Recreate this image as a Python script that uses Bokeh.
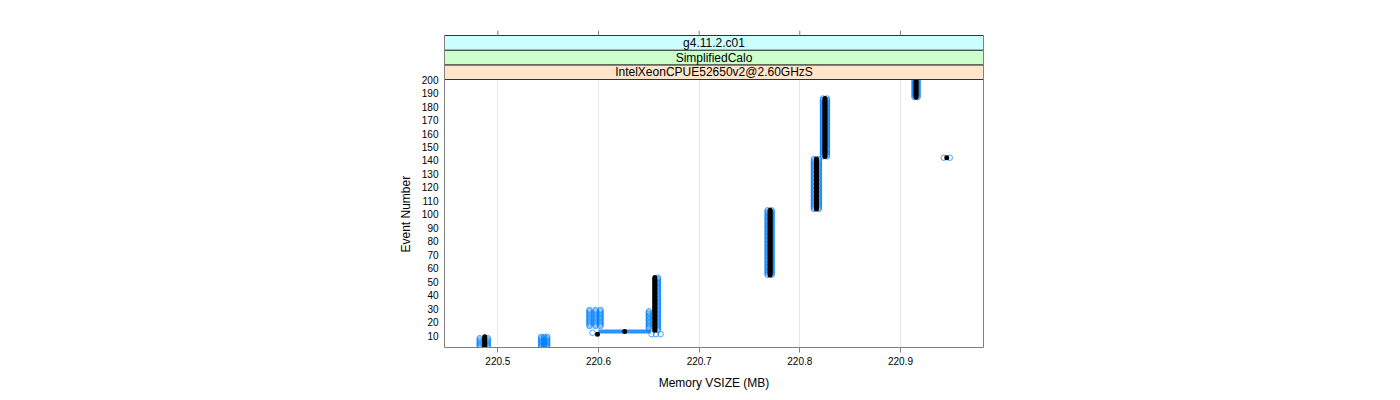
from bokeh.plotting import figure
from bokeh.models import Range1d, FixedTicker, LinearAxis, Title
from bokeh.core.properties import value
from bokeh.embed import file_html
from bokeh.resources import INLINE

# ---- data ----
strip_labels = ["IntelXeonCPUE52650v2@2.60GHzS", "SimplifiedCalo", "g4.11.2.c01"]
strip_colors = ["#ffe5cc", "#ccffcc", "#ccffff"]

x_ticks = [220.5, 220.6, 220.7, 220.8, 220.9]
y_ticks = [10, 20, 30, 40, 50, 60, 70, 80, 90, 100,
           110, 120, 130, 140, 150, 160, 170, 180, 190, 200]

# black run: memory (MB) held over event ranges
black_mem = [220.487, 220.599, 220.626, 220.656, 220.7705, 220.8165, 220.946, 220.825, 220.9155]
black_first = [1, 11, 13, 14, 55, 104, 142, 143, 187]
black_last = [9, 11, 13, 53, 103, 141, 142, 186, 200]

# blue runs: memory (MB) held over event ranges
blue_mem = [220.482, 220.490, 220.543, 220.546, 220.549,
            220.591, 220.597, 220.602, 220.594,
            220.650, 220.659, 220.6527, 220.657, 220.6617,
            220.768, 220.772, 220.814, 220.819,
            220.823, 220.827, 220.914, 220.917, 220.943, 220.949]
blue_first = [1, 1, 1, 1, 1,
              17, 17, 17, 12,
              15, 14, 11, 11, 11,
              55, 55, 104, 104,
              143, 143, 187, 187, 142, 142]
blue_last = [8, 8, 9, 9, 9,
             29, 29, 29, 12,
             28, 53, 11, 11, 11,
             103, 103, 141, 141,
             186, 186, 200, 200, 142, 142]

blue_step_mem = [220.600, 220.652]
blue_step_event = [13, 13]


def expand(mem, first, last):
    xs, ys = [], []
    for m, a, b in zip(mem, first, last):
        for e in range(a, b + 1):
            xs.append(m)
            ys.append(e)
    return xs, ys


bx, by = expand(black_mem, black_first, black_last)
ux, uy = expand(blue_mem, blue_first, blue_last)

FONT = "Liberation Sans"
GRAY = "#808080"

# layout (pixels)
FRAME_W, FRAME_H = 539, 317
PANEL_H = 268          # panel body height
STRIP_TOTAL = 44       # three strips
x0, x1 = 220.447, 220.9825
y0, panel_top = 1.1, 200.1
ppu = PANEL_H / (panel_top - y0)
strip_top = panel_top + STRIP_TOTAL / ppu
y1 = y0 + FRAME_H / ppu

p = figure(frame_width=FRAME_W, frame_height=FRAME_H,
           min_border_left=444, min_border_right=417,
           min_border_top=30, min_border_bottom=53,
           x_range=Range1d(x0, x1), y_range=Range1d(y0, y1),
           output_backend="svg", toolbar_location=None,
           background_fill_color="white", border_fill_color="white")

p.outline_line_color = None

# grid
p.xgrid.ticker = FixedTicker(ticks=x_ticks)
p.xgrid.grid_line_color = "#e6e6e6"
p.ygrid.grid_line_color = None

# bottom axis
xa = p.xaxis[0]
xa.ticker = FixedTicker(ticks=x_ticks)
xa.axis_line_color = GRAY
xa.major_tick_out = 5
xa.major_tick_in = 0
xa.major_tick_line_color = GRAY
xa.minor_tick_line_color = None
xa.major_label_text_font = FONT
xa.major_label_text_font_size = "10px"
xa.major_label_text_color = "black"
xa.major_label_standoff = 4
xa.axis_label = "Memory VSIZE (MB)"
xa.axis_label_text_font = FONT
xa.axis_label_text_font_size = "12px"
xa.axis_label_text_font_style = "normal"
xa.axis_label_text_color = "black"
xa.axis_label_standoff = 8

# left axis (labels only, line limited to panel + strips)
ya = p.yaxis[0]
ya.ticker = FixedTicker(ticks=y_ticks)
ya.bounds = (y0, strip_top)
ya.axis_line_color = GRAY
ya.major_tick_out = 0
ya.major_tick_in = 0
ya.minor_tick_line_color = None
ya.major_label_text_font = FONT
ya.major_label_text_font_size = "10px"
ya.major_label_text_color = "black"
ya.major_label_standoff = 6

# right border
ra = LinearAxis(ticker=FixedTicker(ticks=[]), bounds=(y0, strip_top),
                axis_line_color=GRAY, major_tick_out=0, major_tick_in=0,
                minor_tick_line_color=None)
p.add_layout(ra, "right")

# y axis title, placed along the panel body
p.add_layout(Title(text="Event Number", align="left", offset=95, standoff=11,
                   text_font=FONT, text_font_size="12px", text_font_style="normal",
                   text_color="black"), "left")

# data
p.line(blue_step_mem, blue_step_event, line_color="#0080ff", line_width=4, line_alpha=0.85)
p.scatter(ux, uy, marker="circle", size=5.5, fill_color=None,
          line_color="#0080ff", line_width=1, line_alpha=0.7)
p.scatter(bx, by, marker="circle", size=5, fill_color="black", line_color=None)

# strips
h = STRIP_TOTAL / ppu / 3.0
bottoms = [panel_top + i * h for i in range(3)]
tops = [b + h for b in bottoms]
p.quad(left=[x0] * 3, right=[x1] * 3, bottom=bottoms, top=tops,
       fill_color=strip_colors, line_color="#333333", line_width=1)
p.text(x=[(x0 + x1) / 2] * 3, y=[(b + t) / 2 for b, t in zip(bottoms, tops)],
       text=strip_labels, text_align="center", text_baseline="middle",
       text_font=value(FONT), text_font_size="12px", text_color="black")

# top tick marks above the strips
p.segment(x0=x_ticks, y0=[strip_top] * len(x_ticks), x1=x_ticks, y1=[y1] * len(x_ticks),
          line_color=GRAY, line_width=1)

open("out.html", "w").write(file_html(p, INLINE))
